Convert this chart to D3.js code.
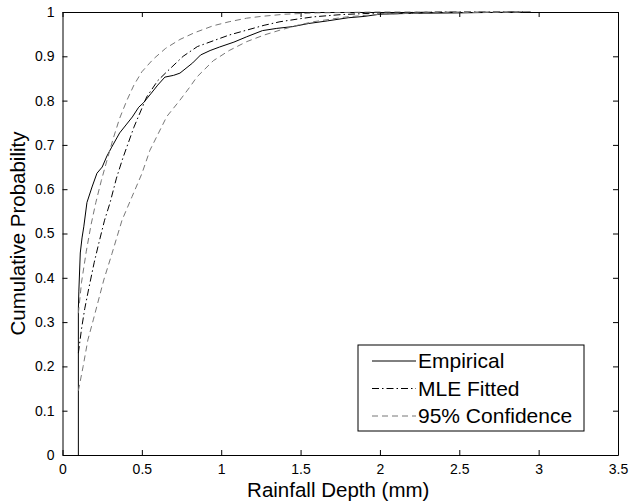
<!DOCTYPE html>
<html>
<head>
<meta charset="utf-8">
<script src="https://cdn.jsdelivr.net/npm/d3@7"></script>
<style>
  body { margin: 0; background: #fff; }
  svg { display: block; }
  text { font-family: "Liberation Sans", Arial, sans-serif; fill: #000; }
</style>
</head>
<body>
<figure id="cdf" style="margin:0"></figure>
<script>
// empirical CDF, [depth mm, probability]
const empirical = [
  [0.1, 0], [0.1, 0.33], [0.103, 0.37], [0.112, 0.456], [0.123, 0.49], [0.134, 0.515],
  [0.154, 0.57], [0.186, 0.605], [0.217, 0.636], [0.25, 0.65], [0.28, 0.675], [0.31, 0.695],
  [0.36, 0.727], [0.4, 0.745], [0.44, 0.763], [0.48, 0.785], [0.51, 0.795], [0.56, 0.817],
  [0.6, 0.835], [0.645, 0.853], [0.7, 0.857], [0.74, 0.862], [0.82, 0.885], [0.87, 0.903],
  [0.93, 0.913], [0.99, 0.921], [1.08, 0.932], [1.16, 0.944], [1.26, 0.958], [1.35, 0.963],
  [1.45, 0.967], [1.55, 0.974], [1.67, 0.98], [1.8, 0.987], [1.9, 0.99], [2.0, 0.995],
  [2.2, 0.997], [2.5, 0.998], [2.7, 0.999], [2.95, 1.0]
];
const mleFitted = [
  [0.1, 0.23], [0.12, 0.285], [0.14, 0.33], [0.165, 0.375], [0.2, 0.435], [0.23, 0.48],
  [0.265, 0.53], [0.3, 0.57], [0.34, 0.625], [0.38, 0.67], [0.45, 0.74], [0.53, 0.808],
  [0.6, 0.845], [0.66, 0.866], [0.76, 0.9], [0.85, 0.922], [0.95, 0.935], [1.05, 0.948],
  [1.16, 0.959], [1.27, 0.97], [1.37, 0.978], [1.48, 0.984], [1.58, 0.989], [1.75, 0.994],
  [2.0, 0.998], [2.4, 1.0], [2.9, 1.0]
];
const upperConf = [
  [0.1, 0.32], [0.12, 0.39], [0.15, 0.46], [0.18, 0.52], [0.21, 0.57], [0.245, 0.62],
  [0.28, 0.665], [0.32, 0.715], [0.36, 0.76], [0.405, 0.8], [0.45, 0.835], [0.5, 0.865],
  [0.57, 0.893], [0.65, 0.918], [0.74, 0.938], [0.83, 0.953], [0.95, 0.969], [1.05, 0.978],
  [1.16, 0.986], [1.25, 0.99], [1.4, 0.995], [1.6, 0.998], [2.0, 1.0], [2.9, 1.0]
];
const lowerConf = [
  [0.1, 0.145], [0.13, 0.2], [0.16, 0.26], [0.194, 0.305], [0.238, 0.365], [0.26, 0.395],
  [0.312, 0.455], [0.375, 0.53], [0.438, 0.583], [0.5, 0.635], [0.551, 0.688], [0.657, 0.764],
  [0.74, 0.801], [0.803, 0.831], [0.846, 0.853], [0.95, 0.89], [1.05, 0.913], [1.16, 0.933],
  [1.27, 0.948], [1.37, 0.959], [1.48, 0.97], [1.58, 0.978], [1.79, 0.989], [2.0, 0.995],
  [2.3, 0.998], [2.9, 1.0]
];
const xTicks = [0, 0.5, 1, 1.5, 2, 2.5, 3, 3.5];
const yTicks = [0, 0.1, 0.2, 0.3, 0.4, 0.5, 0.6, 0.7, 0.8, 0.9, 1];
const legendLabels = ["Empirical", "MLE Fitted", "95% Confidence"];

const W = 629, H = 504;
const m = { left: 62.5, right: 618, top: 12, bottom: 455 };

const svg = d3.select("figure#cdf").append("svg")
  .attr("width", W).attr("height", H);

const x = d3.scaleLinear().domain([0, 3.5]).range([m.left, m.right]);
const y = d3.scaleLinear().domain([0, 1]).range([m.bottom, m.top]);

// axes, MATLAB style: ticks inward on all four sides
const tick = 5;
svg.append("g").attr("transform", `translate(0,${m.bottom})`)
  .call(d3.axisBottom(x).tickValues(xTicks).tickSizeInner(-tick).tickSizeOuter(0).tickPadding(9)
    .tickFormat(d3.format("")))
  .call(g => g.selectAll("text").attr("font-size", 14));
svg.append("g").attr("transform", `translate(0,${m.top})`)
  .call(d3.axisTop(x).tickValues(xTicks).tickSizeInner(-tick).tickSizeOuter(0).tickFormat(""));
svg.append("g").attr("transform", `translate(${m.left},0)`)
  .call(d3.axisLeft(y).tickValues(yTicks).tickSizeInner(-tick).tickSizeOuter(0).tickPadding(8)
    .tickFormat(d3.format("")))
  .call(g => g.selectAll("text").attr("font-size", 14));
svg.append("g").attr("transform", `translate(${m.right},0)`)
  .call(d3.axisRight(y).tickValues(yTicks).tickSizeInner(-tick).tickSizeOuter(0).tickFormat(""));
svg.selectAll(".domain").attr("stroke", "#000");
svg.selectAll(".tick line").attr("stroke", "#000");
svg.selectAll(".tick text").attr("font-family", "Liberation Sans, Arial, sans-serif").attr("fill", "#000");

const line = d3.line().x(d => x(d[0])).y(d => y(d[1]));

const styles = [
  { data: empirical, color: "#000", dash: null },
  { data: mleFitted, color: "#000", dash: "7,3,1.5,3" },
  { data: upperConf, color: "#777", dash: "6,4" },
  { data: lowerConf, color: "#777", dash: "6,4" }
];
styles.forEach(s => {
  svg.append("path")
    .attr("d", line(s.data))
    .attr("fill", "none")
    .attr("stroke", s.color)
    .attr("stroke-width", 1)
    .attr("stroke-dasharray", s.dash);
});

// axis titles
svg.append("text")
  .attr("x", (m.left + m.right) / 2 - 2).attr("y", 497)
  .attr("text-anchor", "middle").attr("font-size", 20.5)
  .text("Rainfall Depth (mm)");
svg.append("text")
  .attr("transform", `translate(25,${(m.top + m.bottom) / 2}) rotate(-90)`)
  .attr("text-anchor", "middle").attr("font-size", 20.5)
  .text("Cumulative Probability");

// legend
const lg = svg.append("g");
lg.append("rect")
  .attr("x", 358).attr("y", 345).attr("width", 226).attr("height", 86)
  .attr("fill", "#fff").attr("stroke", "#000");
const legendStyles = [styles[0], styles[1], styles[2]];
legendLabels.forEach((lab, i) => {
  const cy = 361 + i * 27.5;
  lg.append("line")
    .attr("x1", 372).attr("x2", 416).attr("y1", cy).attr("y2", cy)
    .attr("stroke", legendStyles[i].color).attr("stroke-width", 1)
    .attr("stroke-dasharray", legendStyles[i].dash);
  lg.append("text")
    .attr("x", 418).attr("y", cy).attr("dy", "0.35em")
    .attr("font-size", 21)
    .text(lab);
});
</script>
</body>
</html>
